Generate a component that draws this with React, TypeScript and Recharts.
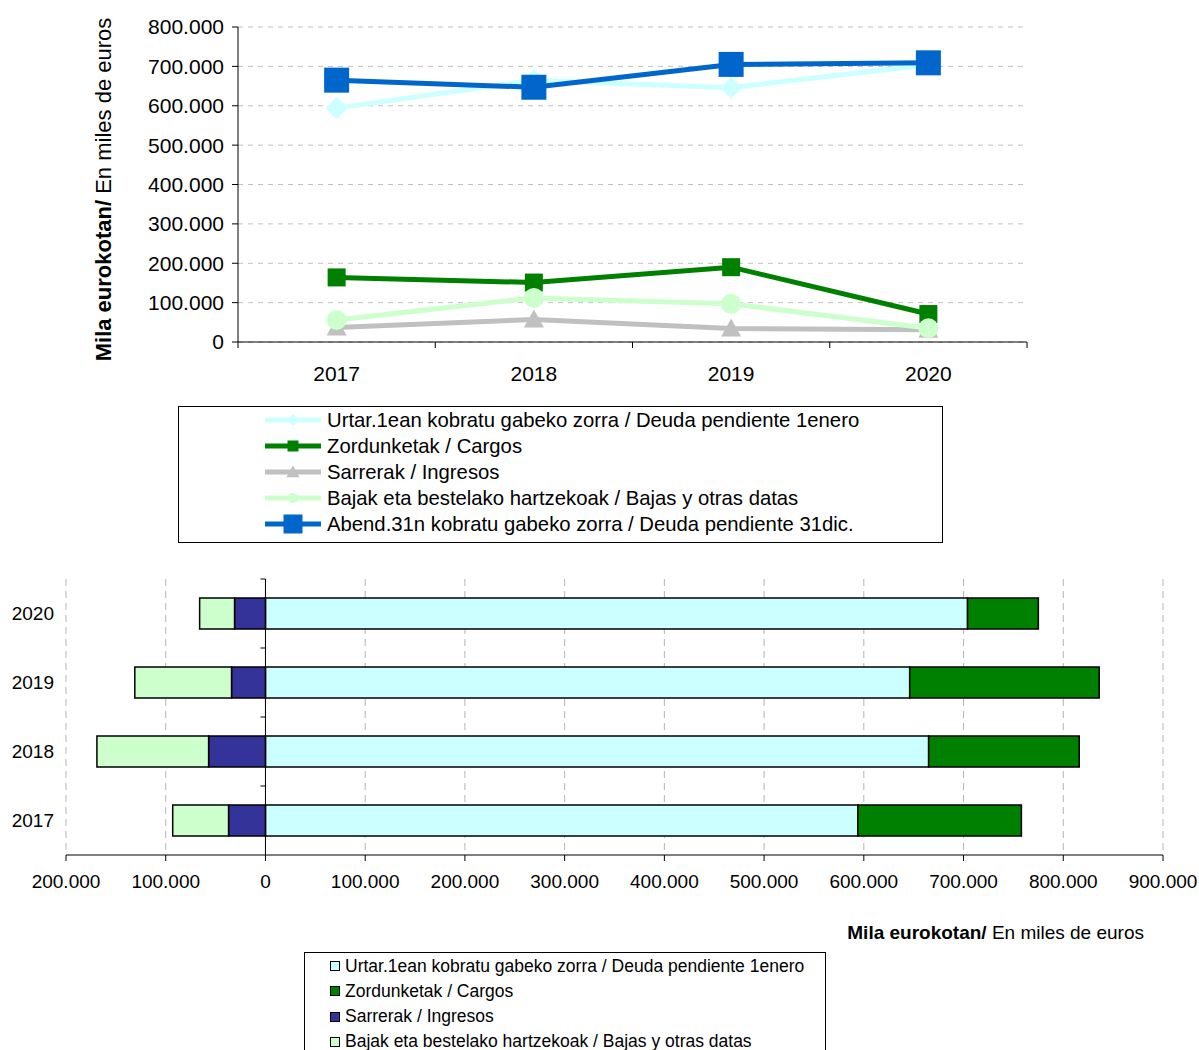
import React from 'react'
import { LineChart, Line, BarChart, Bar, XAxis, YAxis, CartesianGrid, ReferenceLine } from 'recharts'

const YEARS = ['2017', '2018', '2019', '2020']
const DEUDA_ENERO = [594000, 665000, 646000, 704000]
const CARGOS = [164000, 151000, 190000, 71000]
const INGRESOS = [37000, 57000, 34000, 31000]
const BAJAS = [56000, 112000, 97000, 35000]
const DEUDA_DIC = [665000, 647000, 705000, 709000]

const LINE_TICKS = [0, 100000, 200000, 300000, 400000, 500000, 600000, 700000, 800000]
const BAR_TICKS = [-200000, -100000, 0, 100000, 200000, 300000, 400000, 500000, 600000, 700000, 800000, 900000]

const LABELS = {
  enero: 'Urtar.1ean kobratu gabeko zorra / Deuda pendiente 1enero',
  cargos: 'Zordunketak / Cargos',
  ingresos: 'Sarrerak / Ingresos',
  bajas: 'Bajak eta bestelako hartzekoak / Bajas y otras datas',
  dic: 'Abend.31n kobratu gabeko zorra / Deuda pendiente 31dic.',
}

const FONT = '"Liberation Sans", Arial, Helvetica, sans-serif'

const lineData = YEARS.map((year, i) => ({
  year,
  enero: DEUDA_ENERO[i],
  cargos: CARGOS[i],
  ingresos: INGRESOS[i],
  bajas: BAJAS[i],
  dic: DEUDA_DIC[i],
}))

// negative side of the stacked bars: ingresos + bajas
const barData = YEARS.map((year, i) => ({
  year,
  enero: DEUDA_ENERO[i],
  cargos: CARGOS[i],
  ingresos: -INGRESOS[i],
  bajas: -BAJAS[i],
}))

const LINE_SERIES = [
  { key: 'enero', color: '#CCFFFF', shape: 'diamond', size: 11, legendSize: 6 },
  { key: 'cargos', color: '#008000', shape: 'square', size: 9, legendSize: 5.5 },
  { key: 'ingresos', color: '#C0C0C0', shape: 'triangle', size: 10, legendSize: 6.5 },
  { key: 'bajas', color: '#CCFFCC', shape: 'circle', size: 10, legendSize: 5 },
  { key: 'dic', color: '#0066CC', shape: 'square', size: 12.5, legendSize: 9.5 },
]

const BAR_SERIES = [
  { key: 'enero', color: '#CCFFFF' },
  { key: 'cargos', color: '#008000' },
  { key: 'ingresos', color: '#333399' },
  { key: 'bajas', color: '#CCFFCC' },
]

const fmt = (v: number) => String(Math.abs(v)).replace(/\B(?=(\d{3})+(?!\d))/g, '.')

// line chart layout
const LINE_PLOT_W = 789
const HALF_BAND = LINE_PLOT_W / YEARS.length / 2
const LX_MARGIN = 24

function Marker({ cx, cy, shape, size, color }: any) {
  if (cx == null || cy == null) return null
  if (shape === 'square') {
    return <rect x={cx - size} y={cy - size} width={size * 2} height={size * 2} fill={color} />
  }
  if (shape === 'diamond') {
    return <polygon points={`${cx},${cy - size} ${cx + size},${cy} ${cx},${cy + size} ${cx - size},${cy}`} fill={color} />
  }
  if (shape === 'triangle') {
    return <polygon points={`${cx},${cy - size} ${cx + size},${cy + size * 0.8} ${cx - size},${cy + size * 0.8}`} fill={color} />
  }
  return <circle cx={cx} cy={cy} r={size} fill={color} />
}

function LineXTick({ x, y, payload, index }: any) {
  const axisY = y - LX_MARGIN
  return (
    <g>
      <line x1={x - HALF_BAND} x2={x - HALF_BAND} y1={axisY} y2={axisY + 6} stroke="#000" />
      {index === YEARS.length - 1 && (
        <line x1={x + HALF_BAND} x2={x + HALF_BAND} y1={axisY} y2={axisY + 6} stroke="#000" />
      )}
      <text x={x} y={y} dy="0.71em" textAnchor="middle" fontSize={21} fill="#000">
        {payload.value}
      </text>
    </g>
  )
}

function LineYTitle({ viewBox }: any) {
  const cx = 103
  const cy = viewBox.y + viewBox.height / 2 + 5
  return (
    <text
      x={cx}
      y={cy}
      transform={`rotate(-90 ${cx} ${cy})`}
      textAnchor="middle"
      dominantBaseline="central"
      fontSize={22}
      fill="#000"
    >
      <tspan fontWeight="bold">Mila eurokotan/ </tspan>
      <tspan>En miles de euros</tspan>
    </text>
  )
}

function ZeroLine({ x1, y1, x2, y2 }: any) {
  const top = Math.min(y1, y2)
  const bottom = Math.max(y1, y2)
  const step = (bottom - top) / YEARS.length
  return (
    <g>
      <line x1={x1} x2={x2} y1={y1} y2={y2} stroke="#000" strokeWidth={1} />
      {YEARS.map((_, i) => (
        <line key={i} x1={x1 - 5} x2={x1} y1={top + i * step} y2={top + i * step} stroke="#000" />
      ))}
    </g>
  )
}

function LineLegend() {
  return (
    <div
      style={{
        position: 'absolute', left: 178, top: 406, width: 765, height: 137,
        border: '1px solid #000', boxSizing: 'border-box', background: '#fff',
      }}
    >
      {LINE_SERIES.map((s, i) => (
        <div
          key={s.key}
          style={{ position: 'absolute', left: 86, top: 1 + i * 26, height: 24, display: 'flex', alignItems: 'center' }}
        >
          <svg width={56} height={24} style={{ display: 'block' }}>
            <line x1={0} x2={56} y1={12} y2={12} stroke={s.color} strokeWidth={5} />
            <Marker cx={28} cy={12} shape={s.shape} size={s.legendSize} color={s.color} />
          </svg>
          <span style={{ marginLeft: 6, fontSize: 20.3, whiteSpace: 'nowrap', color: '#000' }}>
            {LABELS[s.key as keyof typeof LABELS]}
          </span>
        </div>
      ))}
    </div>
  )
}

function BarLegend() {
  return (
    <div
      style={{
        position: 'absolute', left: 304, top: 952, width: 522, height: 110,
        border: '1px solid #000', boxSizing: 'border-box', background: '#fff',
      }}
    >
      {BAR_SERIES.map((s, i) => (
        <div
          key={s.key}
          style={{ position: 'absolute', left: 25, top: 2 + i * 25.3, height: 22, display: 'flex', alignItems: 'center' }}
        >
          <span
            style={{
              display: 'inline-block', width: 10, height: 10, background: s.color,
              border: '1px solid #000', boxSizing: 'border-box',
            }}
          />
          <span style={{ marginLeft: 5, fontSize: 17.5, whiteSpace: 'nowrap', color: '#000' }}>
            {LABELS[s.key as keyof typeof LABELS]}
          </span>
        </div>
      ))}
    </div>
  )
}

export default function App() {
  return (
    <div
      style={{
        position: 'absolute', left: 0, top: 0, width: 1199, height: 1050,
        overflow: 'hidden', background: '#fff', fontFamily: FONT,
      }}
    >
      <div style={{ position: 'absolute', left: 0, top: 0 }}>
        <LineChart width={1199} height={400} data={lineData} margin={{ top: 27, right: 172, bottom: 0, left: 0 }}>
          <CartesianGrid vertical={false} stroke="#c0c0c0" strokeDasharray="5 5" />
          <XAxis
            dataKey="year"
            height={58}
            padding={{ left: HALF_BAND, right: HALF_BAND }}
            axisLine={{ stroke: '#000' }}
            tickLine={false}
            tickSize={0}
            tickMargin={LX_MARGIN}
            tick={<LineXTick />}
            interval={0}
          />
          <YAxis
            width={238}
            domain={[0, 800000]}
            ticks={LINE_TICKS}
            tickFormatter={fmt}
            axisLine={{ stroke: '#000' }}
            tickLine={{ stroke: '#000' }}
            tickSize={6}
            tickMargin={8}
            tick={{ fontSize: 21, fill: '#000' }}
            label={{ content: (p: any) => <LineYTitle {...p} /> }}
          />
          {LINE_SERIES.map((s) => (
            <Line
              key={s.key}
              dataKey={s.key}
              stroke={s.color}
              strokeWidth={5}
              isAnimationActive={false}
              activeDot={false}
              dot={(p: any) => (
                <Marker key={`${s.key}-${p.index}`} cx={p.cx} cy={p.cy} shape={s.shape} size={s.size} color={s.color} />
              )}
            />
          ))}
        </LineChart>
      </div>
      <LineLegend />
      <div style={{ position: 'absolute', left: 0, top: 560 }}>
        <BarChart
          width={1199}
          height={340}
          data={barData}
          layout="vertical"
          stackOffset="sign"
          barCategoryGap="27.5%"
          margin={{ top: 19, right: 36, bottom: 0, left: 0 }}
        >
          <CartesianGrid horizontal={false} stroke="#b4b4b4" strokeDasharray="7 5" />
          <XAxis
            type="number"
            domain={[-200000, 900000]}
            ticks={BAR_TICKS}
            tickFormatter={fmt}
            height={45}
            axisLine={{ stroke: '#000' }}
            tickLine={{ stroke: '#000' }}
            tickSize={6}
            tickMargin={14}
            tick={{ fontSize: 19, fill: '#000' }}
            interval={0}
          />
          <YAxis
            type="category"
            dataKey="year"
            reversed
            width={66}
            axisLine={false}
            tickLine={false}
            tickSize={0}
            tickMargin={12}
            tick={{ fontSize: 19, fill: '#000' }}
          />
          {BAR_SERIES.map((s) => (
            <Bar
              key={s.key}
              dataKey={s.key}
              stackId="total"
              fill={s.color}
              stroke="#000"
              strokeWidth={1.5}
              isAnimationActive={false}
            />
          ))}
          <ReferenceLine x={0} shape={(p: any) => <ZeroLine {...p} />} />
        </BarChart>
      </div>
      <div
        style={{
          position: 'absolute', right: 55, top: 922, fontSize: 19, lineHeight: '22px',
          whiteSpace: 'nowrap', color: '#000',
        }}
      >
        <span style={{ fontWeight: 'bold' }}>Mila eurokotan/</span> En miles de euros
      </div>
      <BarLegend />
    </div>
  )
}
